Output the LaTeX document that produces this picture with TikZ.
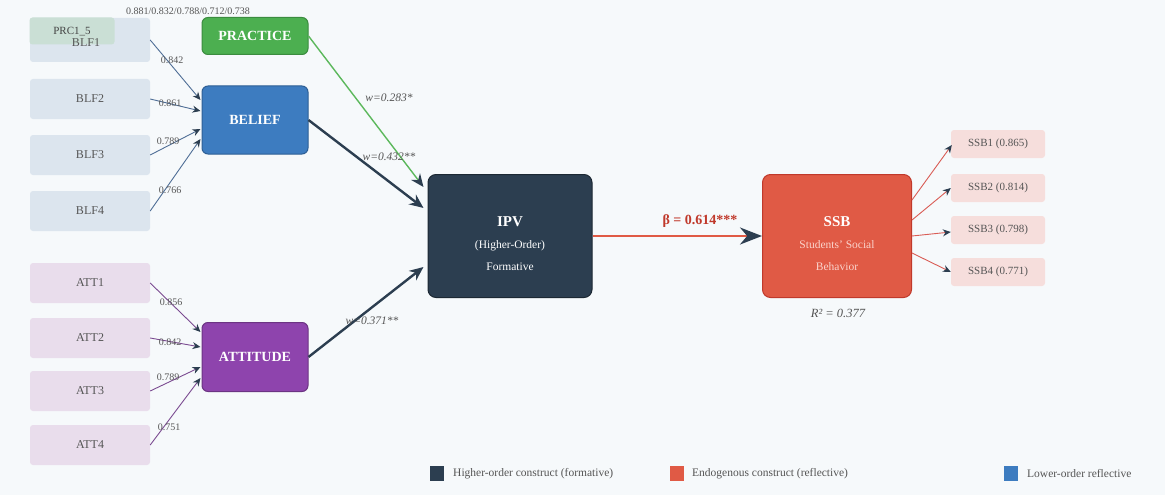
\documentclass[tikz,border=0pt]{standalone}
\usepackage{fontspec}
\setmainfont{Liberation Serif}
\usetikzlibrary{arrows.meta,calc}
\definecolor{bgc}{HTML}{F6F9FB}
\definecolor{blfc}{HTML}{DCE5EE}
\definecolor{attc}{HTML}{E9DDEC}
\definecolor{ssbic}{HTML}{F6DEDC}
\definecolor{prcc}{HTML}{CADFD5}
\definecolor{pracc}{HTML}{4CAF50}
\definecolor{pracd}{HTML}{3B8C3F}
\definecolor{belc}{HTML}{3D7CC0}
\definecolor{beld}{HTML}{2E5F95}
\definecolor{attitc}{HTML}{8E44AD}
\definecolor{attitd}{HTML}{6C3483}
\definecolor{ipvc}{HTML}{2C3E50}
\definecolor{ipvd}{HTML}{1C2833}
\definecolor{ssbc}{HTML}{E05A45}
\definecolor{ssbd}{HTML}{C0392B}
\definecolor{ssbsub}{HTML}{FAD3CB}
\definecolor{txtgray}{HTML}{555555}
\definecolor{blfline}{HTML}{4F6E96}
\definecolor{attline}{HTML}{7A4A90}
\definecolor{ssbline}{HTML}{D95C55}
\definecolor{greenline}{HTML}{5CB85C}
\begin{document}
\begin{tikzpicture}[x=1pt,y=-1pt,
  ind/.style={rectangle, rounded corners=3pt, minimum width=120pt, minimum height=40pt, inner sep=0pt, font=\fontsize{12}{13}\selectfont, text=txtgray},
  blfbox/.style={ind, fill=blfc},
  attbox/.style={ind, fill=attc},
  ssbbox/.style={ind, fill=ssbic, minimum width=94pt, minimum height=28pt, font=\fontsize{11}{12}\selectfont},
  latent/.style={rectangle, rounded corners=6pt, draw, line width=1pt, text=white, inner sep=0pt, minimum width=106pt, font=\bfseries\fontsize{14}{16}\selectfont},
  big/.style={rectangle, rounded corners=8pt, draw, line width=1pt, text=white, inner sep=0pt, font=\fontsize{11.5}{22}\selectfont},
  ldg/.style={font=\fontsize{10}{11}\selectfont, text=txtgray, inner sep=0pt},
  wlab/.style={font=\itshape\fontsize{11.5}{12}\selectfont, text=txtgray, inner sep=0pt},
  ldarrow/.style={line width=0.9pt, -{Stealth[length=8pt,width=7pt,color=ipvc]}},
  patharrow/.style={line width=2.4pt, ipvc, -{Stealth[length=14pt,width=12pt,color=ipvc]}},
  lgsq/.style={rectangle, minimum width=14pt, minimum height=15pt, inner sep=0pt},
  lgtxt/.style={anchor=west, font=\fontsize{11.5}{12}\selectfont, text=txtgray, inner sep=0pt}
]
\useasboundingbox (0,0) rectangle (1165,495);
\fill[bgc] (0,0) rectangle (1165,495);

% indicators
\node[blfbox, minimum height=44pt] (blf1) at (90,40) {};
\node[blfbox] (blf2) at (90,99) {BLF2};
\node[blfbox] (blf3) at (90,155) {BLF3};
\node[blfbox] (blf4) at (90,211) {BLF4};
\node[rectangle, rounded corners=3pt, fill=prcc, minimum width=85pt, minimum height=27pt, inner sep=0pt] (prc) at (72,31) {};
\node[font=\fontsize{11}{12}\selectfont, text=txtgray!80!black, inner sep=0pt] (prctxt) at (72,32) {PRC1\_5};
\node[font=\fontsize{12}{13}\selectfont, text=txtgray, inner sep=0pt] (blf1txt) at (86,43) {BLF1};
\node[font=\fontsize{10}{11}\selectfont, text=txtgray, inner sep=0pt] (toplab) at (188,11) {0.881/0.832/0.788/0.712/0.738};

\node[attbox] (att1) at (90,283) {ATT1};
\node[attbox] (att2) at (90,338) {ATT2};
\node[attbox] (att3) at (90,391) {ATT3};
\node[attbox] (att4) at (90,445) {ATT4};

\node[ssbbox] (s1) at (998,144) {SSB1 (0.865)};
\node[ssbbox] (s2) at (998,188) {SSB2 (0.814)};
\node[ssbbox] (s3) at (998,230) {SSB3 (0.798)};
\node[ssbbox] (s4) at (998,272) {SSB4 (0.771)};

% latent constructs
\node[latent, fill=pracc, draw=pracd, minimum height=37pt] (prac) at (255,36) {PRACTICE};
\node[latent, fill=belc, draw=beld, minimum height=68pt] (bel) at (255,120) {BELIEF};
\node[latent, fill=attitc, draw=attitd, minimum height=69pt] (attit) at (255,357) {ATTITUDE};
\node[big, fill=ipvc, draw=ipvd, minimum width=164pt, minimum height=123pt] (ipv) at (510,236)
  {\raisebox{-8pt}[\height][\depth]{\begin{tabular}{@{}c@{}}\bfseries\fontsize{15}{22}\selectfont IPV\\(Higher-Order)\\Formative\end{tabular}}};
\node[big, fill=ssbc, draw=ssbd, minimum width=149pt, minimum height=123pt, text=ssbsub] (ssb) at (837,236)
  {\raisebox{-8pt}[\height][\depth]{\begin{tabular}{@{}c@{}}\bfseries\fontsize{15}{22}\selectfont\color{white}SSB\\Students' Social\\Behavior\end{tabular}}};

% loadings BLF
\draw[ldarrow, blfline] (blf1.east) -- ($(bel.west)+(-1,-20)$);
\draw[ldarrow, blfline] (blf2.east) -- ($(bel.west)+(-1,-9)$);
\draw[ldarrow, blfline] (blf3.east) -- ($(bel.west)+(-1,9)$);
\draw[ldarrow, blfline] (blf4.east) -- ($(bel.west)+(-1,19)$);
\node[ldg] (lb1) at (172,60) {0.842};
\node[ldg] (lb2) at (170,103) {0.861};
\node[ldg] (lb3) at (168,141) {0.789};
\node[ldg] (lb4) at (170,190) {0.766};

% loadings ATT
\draw[ldarrow, attline] (att1.east) -- ($(attit.west)+(-1,-25)$);
\draw[ldarrow, attline] (att2.east) -- ($(attit.west)+(-1,-10)$);
\draw[ldarrow, attline] (att3.east) -- ($(attit.west)+(-1,10)$);
\draw[ldarrow, attline] (att4.east) -- ($(attit.west)+(-1,21)$);
\node[ldg] (la1) at (171,302) {0.856};
\node[ldg] (la2) at (170,342) {0.842};
\node[ldg] (la3) at (168,377) {0.789};
\node[ldg] (la4) at (169,427) {0.751};

% structural paths
\draw[line width=1.4pt, greenline, -{Stealth[length=13pt,width=11pt,color=ipvc]}] (prac.east) -- ($(ipv.west)+(-4,-49)$);
\draw[patharrow] (bel.east) -- ($(ipv.west)+(-4,-28)$);
\draw[patharrow] (attit.east) -- ($(ipv.west)+(-4,31)$);
\node[wlab] (w1) at (389,98) {w=0.283*};
\node[wlab] (w2) at (389,157) {w=0.432**};
\node[wlab] (w3) at (372,321) {w=0.371**};

\draw[line width=2.6pt, ssbc, -{Stealth[length=22pt,width=17pt,color=ipvc]}] (ipv.east) -- (ssb.west);
\node[font=\bfseries\fontsize{14}{15}\selectfont, text=ssbd, inner sep=0pt] (beta) at (700,221) {β = 0.614***};
\node[font=\itshape\fontsize{12.5}{13}\selectfont, text=txtgray, inner sep=0pt] (r2) at (838,313) {R² = 0.377};

% SSB indicators
\draw[ldarrow, ssbline] ($(ssb.east)+(0,-36)$) -- ($(s1.west)+(1,1)$);
\draw[ldarrow, ssbline] ($(ssb.east)+(0,-16)$) -- (s2.west);
\draw[ldarrow, ssbline] ($(ssb.east)+(0,0)$) -- ($(s3.west)+(0,2)$);
\draw[ldarrow, ssbline] ($(ssb.east)+(0,17)$) -- (s4.west);

% legend
\node[lgsq, fill=ipvc] (lg1) at (437,473) {};
\node[lgtxt] (lt1) at (453,474) {Higher-order construct (formative)};
\node[lgsq, fill=ssbc] (lg2) at (677,473) {};
\node[lgtxt] (lt2) at (692,474) {Endogenous construct (reflective)};
\node[lgsq, fill=belc] (lg3) at (1011,473) {};
\node[lgtxt] (lt3) at (1027,474) {Lower-order reflective};
\end{tikzpicture}
\end{document}
